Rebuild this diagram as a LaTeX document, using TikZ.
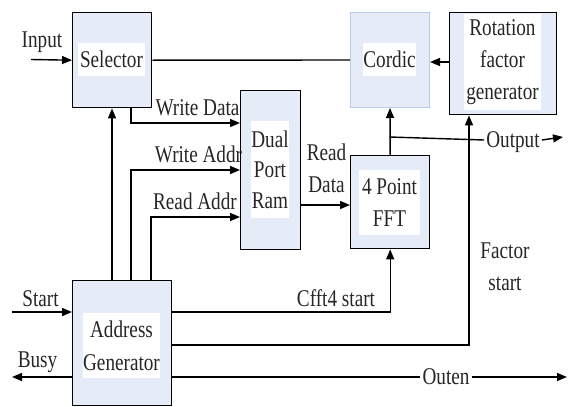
\documentclass[tikz,border=0pt]{standalone}
\usepackage{fontspec}
\setmainfont{Liberation Serif}[FakeStretch=0.8]
\usetikzlibrary{arrows.meta}
\definecolor{boxfill}{HTML}{E5ECF7}
\definecolor{cordline}{HTML}{B7CBEA}
\definecolor{ink}{HTML}{262626}
\begin{document}
\begin{tikzpicture}[x=1pt,y=-1pt,
  every node/.style={font=\fontsize{24}{32}\selectfont, text=ink},
  blk/.style={draw=black, line width=1.4pt, fill=boxfill, inner sep=0pt, anchor=north west},
  inner/.style={fill=white, inner sep=0pt, align=center},
  lbl/.style={inner sep=0pt, align=center},
  one/.style={text height=15.9pt, text depth=0pt},
  wire/.style={line width=1.4pt},
  arr/.style={wire, -{Triangle[length=10pt,width=8pt]}}]
\useasboundingbox (0,0) rectangle (568,407);

% functional blocks
\node[blk, minimum width=79pt, minimum height=95pt] (sel) at (72,12) {};
\node[blk, draw=cordline, line width=1pt, minimum width=79pt, minimum height=95pt] (cor) at (350,12) {};
\node[blk, minimum width=107pt, minimum height=102pt] (rot) at (449,12) {};
\node[blk, minimum width=60pt, minimum height=159pt] (ram) at (240,90) {};
\node[blk, minimum width=79pt, minimum height=93pt] (fft) at (350,155) {};
\node[blk, minimum width=99pt, minimum height=125pt] (adr) at (72,280) {};

% block titles on white panels
\node[inner, minimum width=67pt, minimum height=33pt] (selT) at (111.5,59.5) {Selector};
\node[inner, minimum width=51pt, minimum height=33pt] (corT) at (389.5,59.5) {Cordic};
\node[inner, minimum width=77pt, minimum height=96pt] (rotT) at (502.5,62) {Rotation\\factor\\generator};
\node[inner, minimum width=34pt, minimum height=97pt, font=\fontsize{24}{30.5}\selectfont] (ramT) at (270,169.5) {Dual\\Port\\Ram};
\node[inner, minimum width=61pt, minimum height=65pt] (fftT) at (389.5,202.5) {4 Point\\FFT};
\node[inner, minimum width=77pt, minimum height=65pt, font=\fontsize{24}{33}\selectfont] (adrT) at (121.5,345.5) {Address\\Generator};

% named tap points
\coordinate (inS) at (31,59.5);
\coordinate (wdS) at (131,107);
\coordinate (waS) at (131,280);
\coordinate (raS) at (151,280);
\coordinate (selS) at (112,280);
\coordinate (tapO) at (389.5,137);
\coordinate (outE) at (563,137);
\coordinate (stS) at (12,312);
\coordinate (bzE) at (12,377);
\coordinate (fsX) at (469,345);
\coordinate (oeE) at (567,377);

% signal labels
\node[lbl, one] (inL) at (42,40) {Input};
\node[lbl, one] (wdL) at (197.5,107.5) {Write Data};
\node[lbl, one] (waL) at (198.5,155) {Write Addr};
\node[lbl, one] (raL) at (195,201.5) {Read Addr};
\node[lbl] (rdL) at (326.5,168.5) {Read\\Data};
\node[lbl, one] (stL) at (40.5,298.5) {Start};
\node[lbl, one] (bzL) at (37.5,360) {Busy};
\node[lbl, one] (cfL) at (336,298.5) {Cfft4 start};
\node[lbl] (fsL) at (505,266.5) {Factor\\start};
\node[lbl, one, fill=white, inner xsep=2pt] (outL) at (513,140) {Output};
\node[lbl, one, fill=white, inner xsep=2pt] (oeL) at (446,377) {Outen};

% connections
\draw[arr] (inS) -- (sel.west);
\draw[wire] (sel.east) -- (cor.west);
\draw[arr] (rot.west |- 0,62) -- (cor.east |- 0,62);
\draw[arr] (wdS) |- (ram.west |- 0,123);
\draw[arr] (waS) |- (ram.west |- 0,170);
\draw[arr] (raS) |- (ram.west |- 0,217);
\draw[arr] (selS) -- (selS |- sel.south);
\draw[arr] (ram.east |- 0,205) -- (fft.west |- 0,205);
\draw[arr] (fft.north) -- (cor.south);
\draw[wire] (tapO) -- (outL.west);
\draw[arr] (outL.east) -- (outE);
\draw[arr] (stS) -- (adr.west |- stS);
\draw[arr] (adr.west |- bzE) -- (bzE);
\draw[arr] (adr.east |- 0,312) -| (fft.south);
\draw[arr] (adr.east |- fsX) -- (fsX) -- (fsX |- rot.south);
\draw[wire] (adr.east |- oeE) -- (oeL.west);
\draw[arr] (oeL.east) -- (oeE);
\end{tikzpicture}
\end{document}
